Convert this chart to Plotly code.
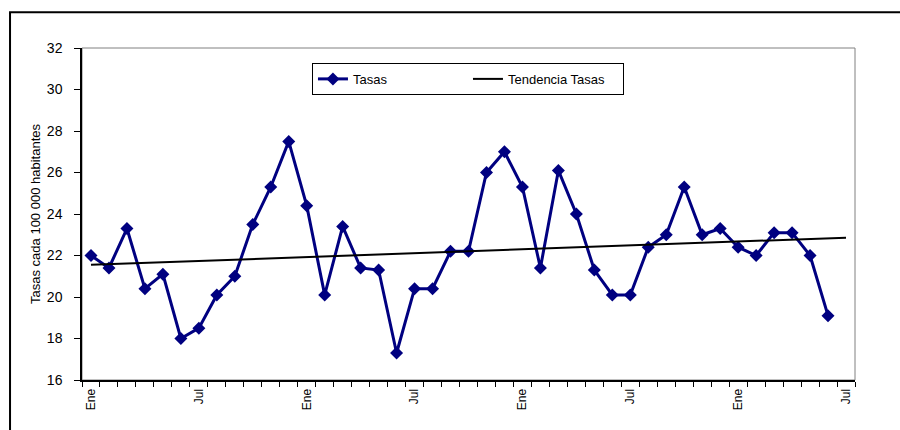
import plotly.graph_objects as go

# Monthly rates, Ene (year 1) through Jun (year 4)
meses = ["Ene", "Feb", "Mar", "Abr", "May", "Jun",
         "Jul", "Ago", "Sep", "Oct", "Nov", "Dic"]
n_categorias = 43  # Ene .. Jul of the fourth year
categorias = [meses[i % 12] for i in range(n_categorias)]

tasas = [22.0, 21.4, 23.3, 20.4, 21.1, 18.0, 18.5, 20.1, 21.0, 23.5, 25.3, 27.5,
         24.4, 20.1, 23.4, 21.4, 21.3, 17.3, 20.4, 20.4, 22.2, 22.2, 26.0, 27.0,
         25.3, 21.4, 26.1, 24.0, 21.3, 20.1, 20.1, 22.4, 23.0, 25.3, 23.0, 23.3,
         22.4, 22.0, 23.1, 23.1, 22.0, 19.1]

# Linear trend line: value at the first and at the last category
tendencia = [21.55, 22.86]

etiquetas_visibles = ["Ene", "Jul"]

idx = list(range(len(tasas)))
idx_tend = [0, n_categorias - 1]

NAVY = "#000080"
FONT = "Liberation Sans, Arial, sans-serif"

fig = go.Figure()
fig.add_trace(go.Scatter(
    x=idx, y=tasas, name="Tasas", mode="lines+markers",
    line=dict(color=NAVY, width=3),
    marker=dict(symbol="diamond", size=10, color=NAVY),
))
fig.add_trace(go.Scatter(
    x=idx_tend, y=tendencia, name="Tendencia Tasas", mode="lines",
    line=dict(color="black", width=2),
))
# invisible carrier for the month labels axis
fig.add_trace(go.Scatter(x=[0], y=[None], xaxis="x2", showlegend=False,
                         hoverinfo="skip"))

rango_x = [-0.5, n_categorias - 0.5]
label_pos = [i for i, m in enumerate(categorias) if m in etiquetas_visibles]
label_txt = [categorias[i] for i in label_pos]

fig.update_layout(
    width=900, height=430,
    margin=dict(l=82, r=45, t=48, b=50),
    paper_bgcolor="white", plot_bgcolor="white",
    font=dict(family=FONT, color="black"),
    showlegend=True,
    legend=dict(
        orientation="h", x=0.2975, y=0.955, xanchor="left", yanchor="top",
        bordercolor="black", borderwidth=1, bgcolor="white",
        font=dict(size=13, family=FONT), entrywidth=110,
    ),
    xaxis=dict(
        range=rango_x, tickmode="array",
        tickvals=[i - 0.5 for i in range(n_categorias + 1)],
        ticktext=[""] * (n_categorias + 1),
        ticks="outside", ticklen=5, tickcolor="black", tickwidth=1,
        showline=True, linecolor="black", linewidth=1.5,
        showgrid=False, zeroline=False, fixedrange=True,
    ),
    xaxis2=dict(
        overlaying="x", anchor="y", side="bottom", range=rango_x,
        tickmode="array", tickvals=label_pos, ticktext=label_txt,
        tickangle=-90, ticks="outside", ticklen=3,
        tickcolor="rgba(0,0,0,0)", tickfont=dict(size=12, family=FONT),
        showline=False, showgrid=False, zeroline=False,
    ),
    yaxis=dict(
        range=[16, 32], dtick=2, tick0=16,
        ticks="outside", ticklen=6, tickcolor="black", tickwidth=1,
        showline=True, linecolor="black", linewidth=1.5,
        showgrid=False, zeroline=False,
        tickfont=dict(size=14, family=FONT), ticklabelstandoff=9,
        title=dict(text="Tasas cada 100 000 habitantes",
                   font=dict(size=13, family=FONT), standoff=3),
    ),
    shapes=[
        # grey plot-area frame
        dict(type="rect", xref="paper", yref="paper", x0=0, x1=1, y0=0, y1=1,
             line=dict(color="#808080", width=1), layer="below"),
        # outer chart border
        dict(type="rect", xref="paper", yref="paper",
             x0=-0.0931, x1=1.07, y0=-0.17, y1=1.108,
             line=dict(color="black", width=2), layer="below"),
    ],
)

fig.write_html("out.html")
